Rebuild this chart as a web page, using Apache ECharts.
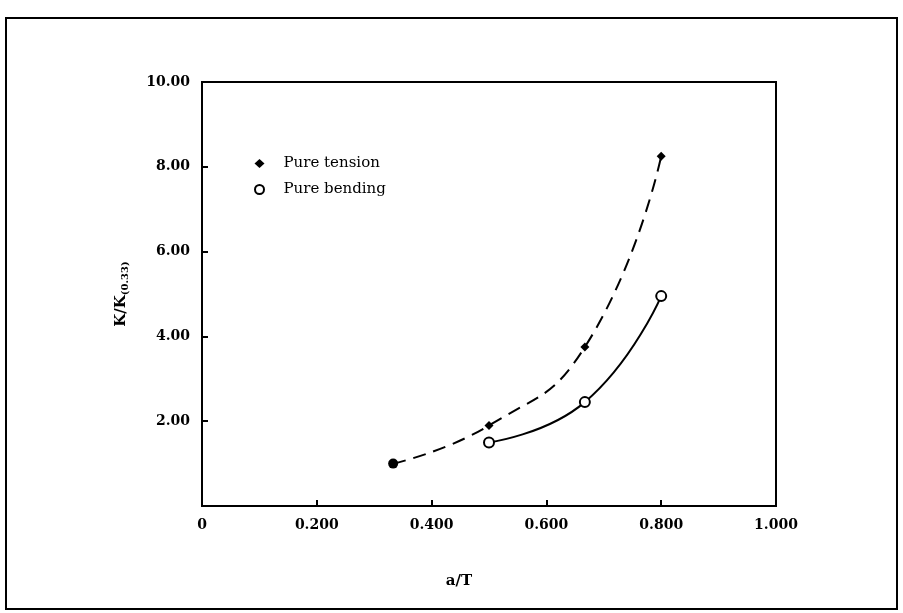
<!DOCTYPE html>
<html>
<head>
<meta charset="utf-8">
<script src="https://cdn.jsdelivr.net/npm/echarts@6/dist/echarts.min.js"></script>
<style>
  html, body { margin: 0; padding: 0; background: #fff; }
  #main { width: 903px; height: 613px; }
</style>
</head>
<body>
<div id="main"></div>
<script>
// K/K(0.33) against a/T
var chart = echarts.init(document.getElementById('main'));

var xTicks = [0, 0.2, 0.4, 0.6, 0.8, 1.0];
var yTicks = [0, 2, 4, 6, 8, 10];
var tensionX = [0.333, 0.5, 0.667, 0.8];
var tensionY = [1.0, 1.9, 3.75, 8.25];
var bendingX = [0.5, 0.667, 0.8];
var bendingY = [1.5, 2.45, 4.95];

var font = 'DejaVu Serif';

var tensionData = tensionX.map(function (x, i) {
    var d = { value: [x, tensionY[i]] };
    if (i === 0) { // common start point, drawn as a filled dot
        d.symbol = 'circle';
        d.symbolSize = 10;
    }
    return d;
});
var bendingData = bendingX.map(function (x, i) {
    return [x, bendingY[i]];
});

option = {
    backgroundColor: '#fff',
    animation: false,
    graphic: [{
        type: 'rect',
        shape: { x: 6, y: 18, width: 891, height: 591 },
        style: { fill: 'none', stroke: '#000', lineWidth: 2 }
    }],
    grid: {
        left: 202,
        right: 127,
        top: 82,
        bottom: 107,
        show: true,
        borderColor: '#000',
        borderWidth: 2
    },
    legend: {
        left: 249,
        top: 151,
        orient: 'vertical',
        itemGap: 11,
        itemWidth: 10,
        itemHeight: 9,
        textStyle: { fontFamily: font, fontSize: 15, color: '#000', padding: [0, 0, 0, 14] },
        data: [
            { name: 'Pure tension', icon: 'diamond' },
            { name: 'Pure bending', icon: 'emptyCircle' }
        ]
    },
    xAxis: {
        type: 'value',
        min: 0,
        max: 1,
        interval: 0.2,
        name: 'a/T',
        nameLocation: 'middle',
        nameGap: 68,
        nameTextStyle: { fontFamily: font, fontSize: 15, color: '#000', fontWeight: 'bold', padding: [0, 60, 0, 0] },
        axisLine: { lineStyle: { color: '#000', width: 2 } },
        axisTick: { inside: true, length: 6, lineStyle: { color: '#000', width: 2 } },
        splitLine: { show: false },
        axisLabel: {
            margin: 12,
            fontFamily: font,
            fontSize: 14,
            fontWeight: 'bold',
            color: '#000',
            formatter: function (v) { return v === 0 ? '0' : v.toFixed(3); }
        }
    },
    yAxis: {
        type: 'value',
        min: 0,
        max: 10,
        interval: 2,
        name: 'K/K{sub|(0.33)}',
        nameLocation: 'middle',
        nameGap: 72,
        nameRotate: 90,
        nameTextStyle: {
            fontFamily: font, fontSize: 15, color: '#000', fontWeight: 'bold',
            rich: { sub: { fontFamily: font, fontSize: 10, fontWeight: 'bold', color: '#000', verticalAlign: 'bottom', padding: [8, 0, 0, 0] } }
        },
        axisLine: { lineStyle: { color: '#000', width: 2 } },
        axisTick: { inside: true, length: 6, lineStyle: { color: '#000', width: 2 } },
        splitLine: { show: false },
        axisLabel: {
            margin: 12,
            fontFamily: font,
            fontSize: 14,
            fontWeight: 'bold',
            color: '#000',
            formatter: function (v) { return v === 0 ? '' : v.toFixed(2); }
        }
    },
    series: [{
        name: 'Pure tension',
        type: 'line',
        smooth: 0.5,
        symbol: 'diamond',
        symbolSize: 9,
        itemStyle: { color: '#000' },
        lineStyle: { color: '#000', width: 2, type: [13, 8] },
        data: tensionData
    }, {
        name: 'Pure bending',
        type: 'line',
        smooth: 0.5,
        symbol: 'emptyCircle',
        symbolSize: 10,
        itemStyle: { color: '#000', borderWidth: 2 },
        lineStyle: { color: '#000', width: 2 },
        data: bendingData
    }]
};
chart.setOption(option);
</script>
</body>
</html>
